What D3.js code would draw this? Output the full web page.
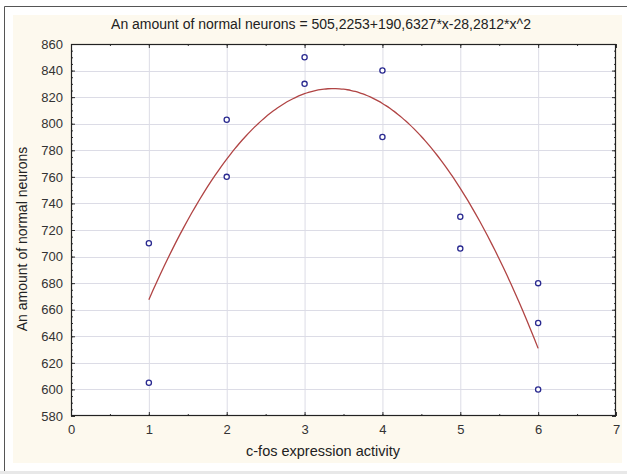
<!DOCTYPE html>
<html><head><meta charset="utf-8">
<script src="https://cdn.jsdelivr.net/npm/d3@7"></script>
<style>body{margin:0;background:#fff}svg{display:block}text{font-family:"Liberation Sans",Arial,sans-serif}</style>
</head><body><svg id="c" width="627" height="474"></svg>
<script>
const xs = [1,1,2,2,3,3,4,4,5,5,6,6,6];
const ys = [710,605,803,760,850,830,840,790,730,706,680,650,600];
const coef = [505.2253,190.6327,-28.2812];
const xTicks = [0,1,2,3,4,5,6,7];
const yTicks = [580,600,620,640,660,680,700,720,740,760,780,800,820,840,860];
const title = "An amount of normal neurons = 505,2253+190,6327*x-28,2812*x^2";
const xTitle = "c-fos expression activity";
const yTitle = "An amount of normal neurons";

(function(){
const svg = d3.select("#c");
svg.append("rect").attr("x",0).attr("y",0).attr("width",627).attr("height",474).attr("fill","#fff");
svg.append("rect").attr("x",0).attr("y",471).attr("width",627).attr("height",3).attr("fill","#e8e8e8");
svg.append("path").attr("d","M4.5,471 V6.5 H627").attr("fill","none").attr("stroke","#555").attr("stroke-width",1);
svg.append("rect").attr("x",13).attr("y",15).attr("width",609).attr("height",448).attr("fill","#fdf9ee");

const L=71,R=616,T=44,B=416;
const x = d3.scaleLinear().domain([0,7]).range([L,R]);
const y = d3.scaleLinear().domain([580,860]).range([B,T]);
svg.append("rect").attr("x",L).attr("y",T).attr("width",R-L).attr("height",B-T).attr("fill","#fff");

const g = svg.append("g");
g.selectAll(".gx").data(xTicks.slice(1,-1)).join("line")
 .attr("x1",d=>x(d)+0.5).attr("x2",d=>x(d)+0.5).attr("y1",T).attr("y2",B)
 .attr("stroke","#dcdce6").attr("stroke-width",1);
g.selectAll(".gy").data(yTicks.slice(1,-1)).join("line")
 .attr("y1",d=>Math.round(y(d))+0.5).attr("y2",d=>Math.round(y(d))+0.5).attr("x1",L).attr("x2",R)
 .attr("stroke","#dcdce6").attr("stroke-width",1);

const xMinor = d3.range(0,7.01,0.5);
const yMinor = d3.range(580,860.1,5);
const axC="#333";
svg.append("g").attr("transform",`translate(0,${B})`)
 .call(d3.axisBottom(x).tickValues(xTicks).tickSizeInner(-4).tickSizeOuter(0).tickPadding(9).tickFormat(d3.format("d")));
svg.append("g").attr("transform",`translate(${L},0)`)
 .call(d3.axisLeft(y).tickValues(yTicks).tickSizeInner(-4).tickSizeOuter(0).tickPadding(8).tickFormat(d3.format("d")));
svg.append("g").attr("transform",`translate(0,${T})`)
 .call(d3.axisTop(x).tickValues(xTicks).tickSizeInner(-4).tickSizeOuter(0).tickFormat(""));
svg.append("g").attr("transform",`translate(${R},0)`)
 .call(d3.axisRight(y).tickValues(yTicks).tickSizeInner(-4).tickSizeOuter(0).tickFormat(""));
svg.append("g").attr("transform",`translate(0,${B})`).call(d3.axisBottom(x).tickValues(xMinor).tickSize(-2).tickFormat(""));
svg.append("g").attr("transform",`translate(0,${T})`).call(d3.axisTop(x).tickValues(xMinor).tickSize(-2).tickFormat(""));
svg.append("g").attr("transform",`translate(${L},0)`).call(d3.axisLeft(y).tickValues(yMinor).tickSize(-2).tickFormat(""));
svg.append("g").attr("transform",`translate(${R},0)`).call(d3.axisRight(y).tickValues(yMinor).tickSize(-2).tickFormat(""));
svg.selectAll(".domain").attr("stroke","none");
svg.selectAll(".tick line").attr("stroke",axC);
svg.selectAll(".tick text").attr("fill","#333").attr("font-size","13px").attr("font-family","Liberation Sans, Arial, sans-serif");
svg.append("rect").attr("x",L+0.5).attr("y",T+0.5).attr("width",R-L-1).attr("height",B-T-1)
 .attr("fill","none").attr("stroke","#222").attr("stroke-width",1.2);

const cx = d3.range(1,6.0001,0.05);
const line = d3.line().x(d=>x(d)).y(d=>y(coef[0]+coef[1]*d+coef[2]*d*d)).curve(d3.curveMonotoneX);
svg.append("path").datum(cx).attr("d",line).attr("fill","none").attr("stroke","#b04444").attr("stroke-width",1.3);

svg.selectAll(".pt").data(xs.map((d,i)=>[d,ys[i]])).join("circle")
 .attr("cx",d=>x(d[0])).attr("cy",d=>y(d[1])).attr("r",2.6)
 .attr("fill","#fff").attr("stroke","#2a2a90").attr("stroke-width",1.3);

svg.append("text").attr("x",321).attr("y",29).attr("text-anchor","middle").attr("font-size","14px").attr("fill","#222").text(title);
svg.append("text").attr("x",323).attr("y",456).attr("text-anchor","middle").attr("font-size","14.5px").attr("fill","#222").text(xTitle);
svg.append("text").attr("transform",`translate(27,239) rotate(-90)`).attr("text-anchor","middle").attr("font-size","14px").attr("fill","#222").text(yTitle);
})();
</script></body></html>
